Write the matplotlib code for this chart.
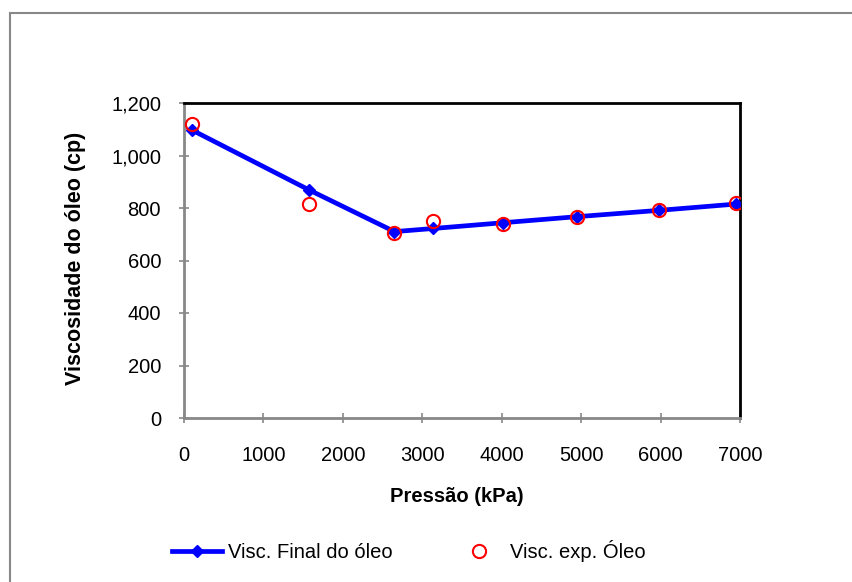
import matplotlib
matplotlib.use('Agg')
import matplotlib.pyplot as plt
from matplotlib.patches import Rectangle
from matplotlib.ticker import FuncFormatter

plt.rcParams['font.family'] = ['Liberation Sans', 'DejaVu Sans']

# pressure (kPa)
pressao = [100, 1580, 2650, 3140, 4020, 4950, 5980, 6950]
# calculated viscosity (cp)
visc_final = [1097, 868, 710, 722, 744, 767, 791, 815]
# experimental viscosity (cp)
visc_exp = [1120, 815, 705, 752, 740, 766, 792, 818]

fig = plt.figure(figsize=(8.53, 5.82), dpi=100)
ax = fig.add_axes([184 / 853, 1 - 418 / 582, (740 - 184) / 853, (418 - 103) / 582])

# outer chart frame (only top/left visible in the reference)
fig.patches.append(Rectangle((10 / 853, -0.1), 1.2, 1 - 13 / 582 + 0.1,
                             transform=fig.transFigure, fill=False,
                             edgecolor='#888888', linewidth=1.5))

ax.plot(pressao, visc_final, color='#0000ff', linewidth=3.4, marker='D',
        markersize=6, label='Visc. Final do óleo', zorder=3)
ax.plot(pressao, visc_exp, linestyle='none', marker='o', markersize=9.5,
        markerfacecolor='none', markeredgecolor='#ff0000', markeredgewidth=1.5,
        label='Visc. exp. Óleo', zorder=4)

ax.set_xlim(0, 7000)
ax.set_ylim(0, 1200)
ax.set_xticks(range(0, 7001, 1000))
ax.set_yticks(range(0, 1201, 200))
ax.yaxis.set_major_formatter(FuncFormatter(lambda v, p: '{:,.0f}'.format(v)))
ax.tick_params(direction='inout', length=7, width=1.2, color='#888888',
               labelsize=14.5)
ax.tick_params(axis='x', pad=17)
ax.tick_params(axis='y', pad=13)

for s in ['left', 'bottom']:
    ax.spines[s].set_color('#888888')
    ax.spines[s].set_linewidth(2)
for s in ['top', 'right']:
    ax.spines[s].set_color('black')
    ax.spines[s].set_linewidth(2)

ax.set_xlabel('Pressão (kPa)', fontsize=14.5, fontweight='bold')
ax.set_ylabel('Viscosidade do óleo (cp)', fontsize=15.5, fontweight='bold')
ax.xaxis.set_label_coords(0.491, -0.219)
ax.yaxis.set_label_coords(-0.176, 0.508)

fig.legend(loc='center left', bbox_to_anchor=(172 / 853, 1 - 551 / 582), ncol=2,
           frameon=False, fontsize=14.5, handlelength=2.5, columnspacing=3.0,
           handletextpad=0.3, borderpad=0, borderaxespad=0)

plt.savefig('out.png', dpi=100)
